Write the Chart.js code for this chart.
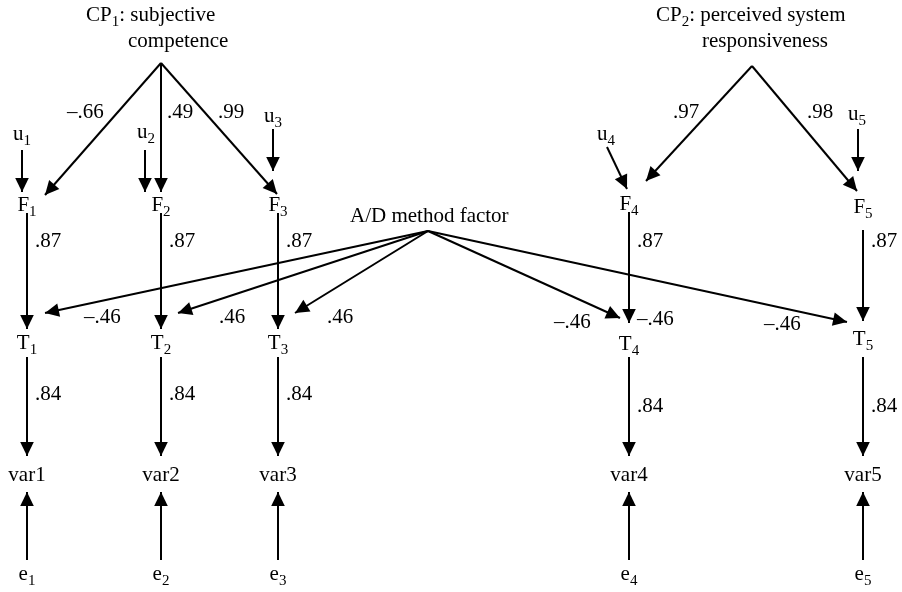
<!DOCTYPE html>
<html><head><meta charset="utf-8">
<script src="https://cdn.jsdelivr.net/npm/chart.js@4"></script>
<style>html,body{margin:0;padding:0;background:#fff}#wrap{width:902px;height:592px;position:relative}</style>
</head><body><div id="wrap"><canvas id="c"></canvas></div>
<script>
// ---------------- data ----------------
const indicators = ["var1", "var2", "var3", "var4", "var5"];
const traits = ["T_1", "T_2", "T_3", "T_4", "T_5"];
const factors = ["F_1", "F_2", "F_3", "F_4", "F_5"];
const disturbances = ["u_1", "u_2", "u_3", "u_4", "u_5"];
const errors = ["e_1", "e_2", "e_3", "e_4", "e_5"];
const cp1Name = ["CP_1: subjective", "competence"];
const cp2Name = ["CP_2: perceived system", "responsiveness"];
const methodName = "A/D method factor";
const cp1Loadings = [-0.66, 0.49, 0.99];
const cp2Loadings = [0.97, 0.98];
const traitLoadings = [0.87, 0.87, 0.87, 0.87, 0.87];
const methodLoadings = [-0.46, 0.46, 0.46, -0.46, -0.46, -0.46];
const indicatorLoadings = [0.84, 0.84, 0.84, 0.84, 0.84];

// ---------------- layout (diagram units) ----------------
const colX = [27, 161, 278, 629, 863];
const cp1Apex = [161, 63], cp2Apex = [752, 66], mApex = [428, 231];
const cp1Tips = [[45, 195], [161, 192], [277, 194]];
const cp2Tips = [[646, 181], [857, 191]];
const uArrows = [[22,150,22,192],[145,150,145,192],[273,129,273,171],[607,147,627,189],[858,129,858,171]];
const fT = [[213,329],[213,329],[213,329],[212,323],[230,321]];
const mTips = [[45,313],[178,313],[295,313],[620,318],[847,322]];
const tv = [357, 456], ev = [560, 492];

const fmt = v => (v < 0 ? "\u2013" : "") + "." + String(Math.round(Math.abs(v) * 100)).padStart(2, "0");

// arrows list
const arrows = [];
cp1Tips.forEach(t => arrows.push([cp1Apex[0], cp1Apex[1], t[0], t[1]]));
cp2Tips.forEach(t => arrows.push([cp2Apex[0], cp2Apex[1], t[0], t[1]]));
uArrows.forEach(a => arrows.push(a));
colX.forEach((x, i) => arrows.push([x, fT[i][0], x, fT[i][1]]));
mTips.forEach(t => arrows.push([mApex[0], mApex[1], t[0], t[1]]));
colX.forEach(x => arrows.push([x, tv[0], x, tv[1]]));
colX.forEach(x => arrows.push([x, ev[0], x, ev[1]]));

// labels: [text, x, baseline, align]
const labels = [];
labels.push([cp1Name[0], 86, 21, "left"], [cp1Name[1], 128, 47, "left"]);
labels.push([cp2Name[0], 656, 21, "left"], [cp2Name[1], 702, 47, "left"]);
labels.push([methodName, 350, 222, "left"]);
const uPos = [[22,140],[146,138],[273,122],[606,140],[857,120]];
disturbances.forEach((s, i) => labels.push([s, uPos[i][0], uPos[i][1], "center"]));
const fBase = [211, 211, 211, 210, 213];
factors.forEach((s, i) => labels.push([s, colX[i], fBase[i], "center"]));
const tBase = [349, 349, 349, 350, 345];
traits.forEach((s, i) => labels.push([s, colX[i], tBase[i], "center"]));
indicators.forEach((s, i) => labels.push([s, colX[i], 481, "center"]));
errors.forEach((s, i) => labels.push([s, colX[i], 580, "center"]));
const cp1L = [[67,118],[167,118],[218,118]];
cp1Loadings.forEach((v, i) => labels.push([fmt(v), cp1L[i][0], cp1L[i][1], "left"]));
const cp2L = [[673,118],[807,118]];
cp2Loadings.forEach((v, i) => labels.push([fmt(v), cp2L[i][0], cp2L[i][1], "left"]));
traitLoadings.forEach((v, i) => labels.push([fmt(v), colX[i] + 8, 247, "left"]));
const iBase = [400, 400, 400, 412, 412];
indicatorLoadings.forEach((v, i) => labels.push([fmt(v), colX[i] + 8, iBase[i], "left"]));
const mL = [[84,323],[219,323],[327,323],[554,328],[637,325],[764,330]];
methodLoadings.forEach((v, i) => labels.push([fmt(v), mL[i][0], mL[i][1], "left"]));

// ---------------- chart ----------------
const FONT = '"Liberation Serif", "Times New Roman", serif';
const datasets = arrows.map(a => ({
  type: "line",
  data: [{x: a[0], y: a[1]}, {x: a[2], y: a[3]}],
  borderColor: "#000", borderWidth: 2, pointRadius: 0, fill: false, tension: 0
}));

function drawRich(ctx, text, x, y, align) {
  const segs = [];
  for (let i = 0; i < text.length; i++) {
    if (text[i] === "_" && i + 1 < text.length) { segs.push([text[i + 1], true]); i++; }
    else {
      if (segs.length && !segs[segs.length - 1][1]) segs[segs.length - 1][0] += text[i];
      else segs.push([text[i], false]);
    }
  }
  const big = "21px " + FONT, small = "15px " + FONT;
  let w = 0;
  segs.forEach(s => { ctx.font = s[1] ? small : big; w += ctx.measureText(s[0]).width; });
  let cx = align === "center" ? x - w / 2 : x;
  ctx.textAlign = "left"; ctx.textBaseline = "alphabetic"; ctx.fillStyle = "#000";
  segs.forEach(s => {
    ctx.font = s[1] ? small : big;
    ctx.fillText(s[0], cx, s[1] ? y + 5 : y);
    cx += ctx.measureText(s[0]).width;
  });
}

const diagramPlugin = {
  id: "diagram",
  afterDatasetsDraw(chart) {
    const ctx = chart.ctx, xs = chart.scales.x, ys = chart.scales.y;
    ctx.save();
    arrows.forEach(a => {
      const x1 = xs.getPixelForValue(a[0]), y1 = ys.getPixelForValue(a[1]);
      const x2 = xs.getPixelForValue(a[2]), y2 = ys.getPixelForValue(a[3]);
      const ang = Math.atan2(y2 - y1, x2 - x1), L = 14, H = 6.8;
      const bx = x2 - L * Math.cos(ang), by = y2 - L * Math.sin(ang);
      ctx.beginPath();
      ctx.moveTo(x2, y2);
      ctx.lineTo(bx + H * Math.sin(ang), by - H * Math.cos(ang));
      ctx.lineTo(bx - H * Math.sin(ang), by + H * Math.cos(ang));
      ctx.closePath();
      ctx.fillStyle = "#000"; ctx.fill();
    });
    labels.forEach(l => drawRich(ctx, l[0], xs.getPixelForValue(l[1]), ys.getPixelForValue(l[2]), l[3]));
    ctx.restore();
  }
};

new Chart(document.getElementById("c"), {
  type: "scatter",
  data: { datasets },
  options: {
    responsive: true, maintainAspectRatio: false, animation: false,
    layout: { padding: 0 },
    plugins: { legend: { display: false }, tooltip: { enabled: false }, title: { display: false } },
    scales: {
      x: { type: "linear", min: 0, max: 902, display: false },
      y: { type: "linear", min: 0, max: 592, reverse: true, display: false }
    },
    events: []
  },
  plugins: [diagramPlugin]
});
</script>
</body></html>
